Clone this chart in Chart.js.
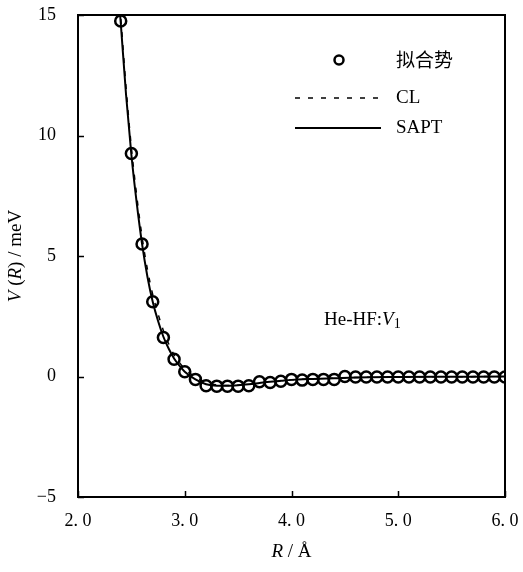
<!DOCTYPE html>
<html>
<head>
<meta charset="utf-8">
<script src="https://cdn.jsdelivr.net/npm/chart.js@4.4.0/dist/chart.umd.min.js"></script>
<style>
html,body{margin:0;padding:0;background:#fff;}
#wrap{position:relative;width:523px;height:572px;}
</style>
</head>
<body>
<div id="wrap"><canvas id="c" width="523" height="572"></canvas></div>
<script>
// ---- data ----
const fitR = [2.4,2.5,2.6,2.7,2.8,2.9,3.0,3.1,3.2,3.3,3.4,3.5,3.6,3.7,3.8,3.9,4.0,4.1,4.2,4.3,4.4,4.5,4.6,4.7,4.8,4.9,5.0,5.1,5.2,5.3,5.4,5.5,5.6,5.7,5.8,5.9,6.0];
const fitV = [14.75,9.25,5.5,3.1,1.62,0.72,0.2,-0.12,-0.38,-0.4,-0.4,-0.4,-0.38,-0.22,-0.25,-0.2,-0.12,-0.15,-0.12,-0.12,-0.12,0.0,-0.02,-0.02,-0.02,-0.02,-0.02,-0.02,-0.02,-0.02,-0.02,-0.02,-0.02,-0.02,-0.02,-0.02,-0.02];
const lineR = [2.38,2.4,2.45,2.5,2.55,2.6,2.65,2.7,2.75,2.8,2.85,2.9,2.95,3.0,3.1,3.2,3.3,3.4,3.5,3.6,3.7,3.8,3.9,4.0,4.2,4.4,4.6,5.0,5.5,6.0,6.1];
const saptV = [15.8,14.7,11.7,9.2,7.2,5.5,4.15,3.1,2.3,1.65,1.15,0.75,0.45,0.2,-0.12,-0.32,-0.38,-0.38,-0.36,-0.32,-0.27,-0.22,-0.18,-0.14,-0.1,-0.07,-0.04,-0.02,-0.01,0,0];
const clV   = [15.9,14.9,12.0,9.5,7.5,5.8,4.45,3.4,2.6,1.9,1.35,0.9,0.58,0.32,-0.02,-0.25,-0.35,-0.37,-0.36,-0.32,-0.27,-0.22,-0.18,-0.14,-0.1,-0.07,-0.04,-0.02,-0.01,0,0];
const xTicks = [2,3,4,5,6];
const yTicks = [-5,0,5,10,15];
const legendLabels = ['拟合势','CL','SAPT'];

const SERIF = '"Liberation Serif","DejaVu Serif",serif';
const CJK = '"Noto Sans CJK SC",sans-serif';

function pts(xs, ys){ return xs.map((x,i)=>({x:x, y:ys[i]})); }

function drawRich(ctx, x, y, parts, align){
  let w = 0;
  parts.forEach(p=>{ ctx.font = (p.italic?'italic ':'') + p.size + 'px ' + (p.family||SERIF); p.w = ctx.measureText(p.t).width; w += p.w; });
  let cx = align==='center' ? x - w/2 : x;
  parts.forEach(p=>{
    ctx.font = (p.italic?'italic ':'') + p.size + 'px ' + (p.family||SERIF);
    ctx.textAlign = 'left';
    ctx.fillText(p.t, cx, y + (p.dy||0));
    cx += p.w;
  });
}

function noPad(s){ s.paddingLeft = 0; s.paddingRight = 0; s.paddingTop = 0; s.paddingBottom = 0; }

const decor = {
  id:'decor',
  afterDraw(chart){
    const ctx = chart.ctx, a = chart.chartArea;
    const xs = chart.scales.x, ys = chart.scales.y;
    ctx.save();
    ctx.strokeStyle = '#000'; ctx.lineWidth = 2;
    ctx.strokeRect(a.left, a.top, a.right-a.left, a.bottom-a.top);
    ctx.lineWidth = 1.5;
    xTicks.forEach(v=>{ const px = Math.round(xs.getPixelForValue(v))+0.5; ctx.beginPath(); ctx.moveTo(px, a.bottom); ctx.lineTo(px, a.bottom-6); ctx.stroke(); });
    yTicks.forEach(v=>{ const py = Math.round(ys.getPixelForValue(v))+0.5; ctx.beginPath(); ctx.moveTo(a.left, py); ctx.lineTo(a.left+6, py); ctx.stroke(); });
    ctx.fillStyle = '#000';
    ctx.textBaseline = 'middle';
    drawRich(ctx, (a.left+a.right)/2, 552, [{t:'R',italic:true,size:19},{t:' / Å',size:19}], 'center');
    ctx.save();
    ctx.translate(16, (a.top+a.bottom)/2);
    ctx.rotate(-Math.PI/2);
    drawRich(ctx, 0, 0, [{t:'V',italic:true,size:19},{t:' (',size:19},{t:'R',italic:true,size:19},{t:') / meV',size:19}], 'center');
    ctx.restore();
    ctx.textBaseline = 'alphabetic';
    drawRich(ctx, 324, 325, [{t:'He-HF:',size:19},{t:'V',italic:true,size:19},{t:'1',size:14,dy:3}], 'left');
    ctx.textBaseline = 'middle';
    const ds = chart.data.datasets;
    ctx.lineWidth = 2.5; ctx.strokeStyle = ds[0].borderColor;
    ctx.beginPath(); ctx.arc(339, 60, 4.5, 0, Math.PI*2); ctx.stroke();
    ctx.font = '19px ' + CJK; ctx.textAlign='left';
    ctx.fillText(ds[0].label, 396, 60);
    ctx.lineWidth = ds[1].borderWidth; ctx.setLineDash(ds[1].borderDash);
    ctx.beginPath(); ctx.moveTo(295, 98); ctx.lineTo(381, 98); ctx.stroke();
    ctx.setLineDash([]);
    ctx.font = '19px ' + SERIF; ctx.fillText(ds[1].label, 396, 98);
    ctx.lineWidth = ds[2].borderWidth;
    ctx.beginPath(); ctx.moveTo(295, 128); ctx.lineTo(381, 128); ctx.stroke();
    ctx.fillText(ds[2].label, 396, 128);
    ctx.restore();
  }
};

new Chart(document.getElementById('c'), {
  type:'line',
  data:{
    datasets:[
      {label:legendLabels[0], data:pts(fitR,fitV), showLine:false, pointStyle:'circle', pointRadius:5.5, pointBorderWidth:2.5, borderColor:'#000', pointBorderColor:'#000', pointBackgroundColor:'rgba(0,0,0,0)', order:0},
      {label:legendLabels[1], data:pts(lineR,clV), borderColor:'#000', borderWidth:1.5, borderDash:[5,8], pointRadius:0, cubicInterpolationMode:'monotone', fill:false, order:2},
      {label:legendLabels[2], data:pts(lineR,saptV), borderColor:'#000', borderWidth:2, pointRadius:0, cubicInterpolationMode:'monotone', fill:false, order:1, clip:{left:0,top:0,right:14,bottom:0}}
    ]
  },
  options:{
    responsive:false, animation:false, maintainAspectRatio:false,
    layout:{padding:{left:0,right:18,top:15,bottom:0}},
    plugins:{legend:{display:false}, tooltip:{enabled:false}},
    scales:{
      x:{type:'linear', min:2, max:6, afterFit(s){ s.height = 75; noPad(s); },
         afterBuildTicks(s){ s.ticks = xTicks.map(v=>({value:v})); },
         grid:{display:false, drawTicks:false}, border:{display:false},
         ticks:{padding:13, color:'#000', font:{family:SERIF, size:18}, maxRotation:0, callback:(v)=>v.toFixed(1).replace('.', '. ')}},
      y:{type:'linear', min:-5, max:15, afterFit(s){ s.width = 78; noPad(s); },
         afterBuildTicks(s){ s.ticks = yTicks.map(v=>({value:v})); },
         grid:{display:false, drawTicks:false}, border:{display:false},
         ticks:{padding:22, color:'#000', font:{family:SERIF, size:18}, callback:(v)=> v<0 ? '−'+Math.abs(v) : String(v)}}
    }
  },
  plugins:[decor]
});
</script>
</body>
</html>
